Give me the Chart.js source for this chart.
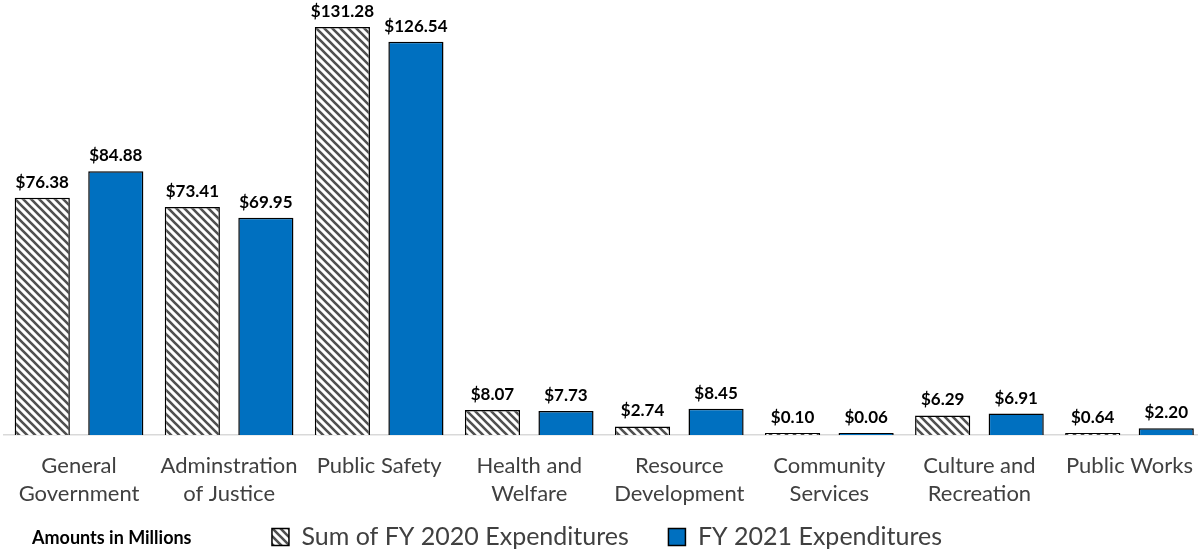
<!DOCTYPE html>
<html>
<head>
<meta charset="utf-8">
<script src="https://cdn.jsdelivr.net/npm/chart.js@4/dist/chart.umd.min.js"></script>
<style>
  html, body { margin: 0; padding: 0; background: #fff; overflow: hidden; }
  #wrap { width: 1210px; height: 552px; position: relative; }
</style>
</head>
<body>
<div id="wrap"><canvas id="myChart"></canvas></div>
<script>
const categories = [
    ['General', 'Government'],
    ['Adminstration', 'of Justice'],
    'Public Safety',
    ['Health and', 'Welfare'],
    ['Resource', 'Development'],
    ['Community', 'Services'],
    ['Culture and', 'Recreation'],
    'Public Works'
]
const fy2020 = [76.38, 73.41, 131.28, 8.07, 2.74, 0.10, 6.29, 0.64]
const fy2021 = [84.88, 69.95, 126.54, 7.73, 8.45, 0.06, 6.91, 2.20]
const seriesNames = ['Sum of FY 2020 Expenditures', 'FY 2021 Expenditures']
const footNote = 'Amounts in Millions'

const font = "Lato, 'Open Sans', sans-serif"

function makeHatch() {
    const c = document.createElement('canvas')
    c.width = 8
    c.height = 8
    const ctx = c.getContext('2d')
    ctx.fillStyle = '#ffffff'
    ctx.fillRect(0, 0, 8, 8)
    ctx.strokeStyle = '#505050'
    ctx.lineWidth = 2.6
    ctx.beginPath()
    ctx.moveTo(-2, -2); ctx.lineTo(10, 10)
    ctx.moveTo(-6, 2); ctx.lineTo(2, 10)
    ctx.moveTo(6, -2); ctx.lineTo(14, 6)
    ctx.stroke()
    return ctx.createPattern(c, 'repeat')
}

const valueLabels = {
    id: 'valueLabels',
    afterDatasetsDraw(chart) {
        const ctx = chart.ctx
        ctx.save()
        ctx.font = `bold 17px ${font}`
        ctx.fillStyle = '#000'
        ctx.textAlign = 'center'
        ctx.textBaseline = 'bottom'
        chart.data.datasets.forEach((ds, i) => {
            chart.getDatasetMeta(i).data.forEach((bar, j) => {
                ctx.fillText('$' + ds.data[j].toFixed(2), bar.x, bar.y - 7)
            })
        })
        ctx.restore()
    },
    afterDraw(chart) {
        const ctx = chart.ctx
        ctx.save()
        ctx.font = `bold 18px ${font}`
        ctx.fillStyle = '#000'
        ctx.textBaseline = 'middle'
        ctx.fillText(footNote, 32, 538)
        ctx.restore()
    }
}

const chart = new Chart(document.querySelector('#myChart'), {
    type: 'bar',
    data: {
        labels: categories,
        datasets: [
            {
                label: seriesNames[0],
                data: fy2020,
                backgroundColor: makeHatch(),
                borderColor: '#000',
                borderWidth: 1.5
            },
            {
                label: seriesNames[1],
                data: fy2021,
                backgroundColor: '#0070C0',
                borderColor: '#000',
                borderWidth: 1.5
            }
        ]
    },
    options: {
        responsive: true,
        maintainAspectRatio: false,
        animation: false,
        layout: {
            autoPadding: false,
            padding: { left: 4, right: 0, top: 0, bottom: -7.5 }
        },
        datasets: {
            bar: { categoryPercentage: 0.98, barPercentage: 0.75, minBarLength: 2 }
        },
        scales: {
            x: {
                grid: { display: false, drawTicks: false },
                border: { display: true, color: '#d9d9d9', width: 1.5 },
                ticks: {
                    color: '#404040',
                    font: { family: font, size: 22, lineHeight: 1.273 },
                    padding: 17,
                    maxRotation: 0,
                    autoSkip: false
                },
                afterFit(scale) { scale.height = 75.5 }
            },
            y: {
                display: false,
                min: 0,
                max: 140
            }
        },
        plugins: {
            legend: {
                position: 'bottom',
                labels: {
                    color: '#404040',
                    font: { family: font, size: 25 },
                    boxWidth: 17,
                    boxHeight: 17,
                    padding: 14,
                    generateLabels(chart) {
                        // widen the gap between the two legend entries
                        const items = Chart.defaults.plugins.legend.labels.generateLabels(chart)
                        items.forEach((item, i) => {
                            if (i < items.length - 1) item.text += '    '
                        })
                        return items
                    }
                }
            },
            tooltip: { enabled: false }
        }
    },
    plugins: [valueLabels]
})
</script>
</body>
</html>
